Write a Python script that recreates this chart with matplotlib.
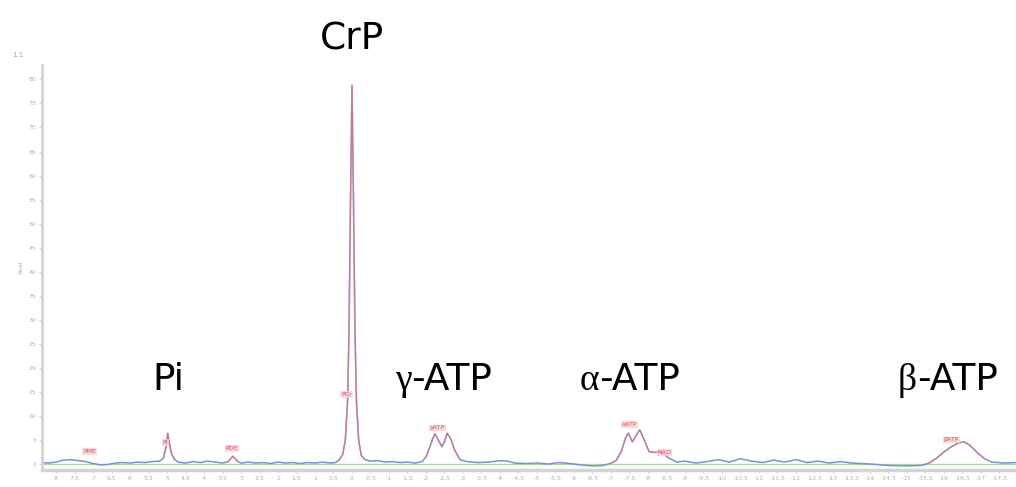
import matplotlib.pyplot as plt
import numpy as np

# 31P spectrum, chemical shift in ppm (descending) and real intensity
ppm = [8.40, 8.20, 8.00, 7.80, 7.60, 7.40, 7.20, 7.00, 6.80, 6.60, 6.40, 6.20,
       6.00, 5.80, 5.60, 5.40, 5.20, 5.10, 5.03, 4.98, 4.93, 4.88, 4.80, 4.70,
       4.50, 4.30, 4.10, 3.90, 3.70, 3.50, 3.35, 3.22, 3.10, 3.00, 2.80, 2.60,
       2.40, 2.20, 2.00, 1.80, 1.60, 1.40, 1.20, 1.00, 0.80, 0.60, 0.45, 0.35,
       0.25, 0.18, 0.12, 0.08, 0.04, 0.00, -0.04, -0.08, -0.12, -0.18, -0.25,
       -0.35, -0.50, -0.70, -0.90, -1.10, -1.30, -1.50, -1.70, -1.90, -2.00,
       -2.10, -2.18, -2.24, -2.34, -2.43, -2.50, -2.57, -2.67, -2.78, -2.92,
       -3.10, -3.40, -3.70, -4.00, -4.20, -4.40, -4.70, -5.00, -5.30, -5.60,
       -5.90, -6.20, -6.50, -6.80, -7.05, -7.15, -7.28, -7.40, -7.47, -7.58,
       -7.70, -7.78, -7.90, -8.03, -8.15, -8.28, -8.40, -8.55, -8.78, -9.00,
       -9.30, -9.60, -9.90, -10.20, -10.50, -10.80, -11.10, -11.40, -11.70,
       -12.00, -12.30, -12.60, -12.90, -13.20, -13.50, -14.00, -14.50, -15.00,
       -15.40, -15.60, -15.80, -16.00, -16.20, -16.40, -16.55, -16.70, -16.90,
       -17.10, -17.30, -17.60, -18.00]
real = [0.3, 0.2, 0.4, 0.8, 0.9, 0.7, 0.5, 0.1, -0.2, -0.1, 0.2, 0.3,
        0.2, 0.4, 0.3, 0.5, 0.6, 1.2, 3.5, 6.4, 4.0, 2.2, 1.0, 0.4,
        0.2, 0.5, 0.3, 0.6, 0.4, 0.2, 0.5, 1.6, 0.6, 0.2, 0.4, 0.2,
        0.3, 0.1, 0.4, 0.2, 0.3, 0.1, 0.3, 0.2, 0.4, 0.2, 0.3, 0.8,
        2.0, 5.0, 13.0, 28.0, 55.0, 78.8, 55.0, 28.0, 13.0, 5.0, 1.8,
        0.9, 0.6, 0.7, 0.4, 0.5, 0.3, 0.4, 0.2, 0.5, 1.5,
        3.5, 5.2, 6.3, 4.9, 3.6, 4.6, 6.4, 5.2, 2.8, 0.9,
        0.5, 0.3, 0.4, 0.7, 0.6, 0.2, 0.1, 0.2, 0.0, 0.3,
        0.1, -0.2, -0.4, -0.3, 0.3, 0.8, 2.6, 5.5, 6.4, 4.6,
        6.2, 7.1, 5.0, 2.6, 2.4, 2.5, 2.3, 1.3, 0.4, 0.6,
        0.2, 0.5, 0.9, 0.4, 1.1, 0.6, 0.3, 0.8, 0.4,
        0.9, 0.3, 0.6, 0.2, 0.5, 0.2, 0.0, -0.3, -0.4,
        -0.3, 0.2, 1.2, 2.5, 3.6, 4.4, 4.6, 3.9, 2.4,
        1.1, 0.4, 0.2, 0.3]

# fitted peak windows (ppm range) and their small tags
fit_windows = [(5.12, 4.80), (3.35, 3.10), (0.35, -0.35), (-1.95, -2.95),
               (-7.05, -8.60), (-15.6, -17.2)]
tag_text = ["PME", "Pi", "PDE", "PCr", "γATP", "αATP", "NAD", "βATP"]
tag_ppm = [7.10, 5.05, 3.25, 0.15, -2.30, -7.50, -8.45, -16.20]
tag_val = [2.6, 4.5, 3.3, 14.5, 7.5, 8.2, 2.4, 5.0]

# peak names written above the spectrum (left edge in ppm)
names = ["-ATP", "-ATP", "-ATP"]
greek = ["γ", "α", "β"]
name_ppm = [-1.16, -6.16, -14.76]
name_val = 15.3

ppm_ticks = np.arange(8.0, -18.0, -0.5)
real_ticks = np.arange(0, 85, 5)

fig = plt.figure(figsize=(10.16, 4.87), dpi=100)
ax = fig.add_axes([42 / 1016, 17 / 487, 974 / 1016, 405 / 487])

ppm = np.array(ppm)
real = np.array(real)

ax.axhline(0.1, color="#a9dca0", lw=1.0, zorder=1)
ax.plot(ppm, real, color="#7593d4", lw=1.1, zorder=2)
for hi, lo in fit_windows:
    m = (ppm <= hi) & (ppm >= lo)
    ax.plot(ppm[m], real[m], color="#f07080", lw=1.1, alpha=0.6, zorder=3)

for t, x, y in zip(tag_text, tag_ppm, tag_val):
    ax.text(x, y, t, fontsize=4.5, color="#e05060", ha="center", va="center",
            bbox=dict(boxstyle="square,pad=0.15", fc="#fbd0d6", ec="none", alpha=0.8),
            zorder=4)

ax.set_xlim(8.38, -17.95)
ax.set_ylim(-1.25, 83)

big = dict(fontsize=27, va="baseline")
ax.text(4.97, name_val, "Pi", family="DejaVu Sans", ha="center", **big)
fig.text(352 / 1016, 1 - 50 / 487, "CrP", family="DejaVu Sans", ha="center", **big)

fig.canvas.draw()
renderer = fig.canvas.get_renderer()
for g, n, x in zip(greek, names, name_ppm):
    gt = ax.text(x, name_val, g, family="Liberation Serif", ha="left", **big)
    ext = gt.get_window_extent(renderer)
    x_right = ax.transData.inverted().transform((ext.x1, 0))[0]
    ax.text(x_right, name_val, n, family="DejaVu Sans", ha="left", **big)

ax.set_xticks(ppm_ticks)
ax.set_xticklabels([f"{v:g}" for v in ppm_ticks])
ax.set_yticks(real_ticks)
ax.set_yticklabels([f"{v:g}" for v in real_ticks])
ax.tick_params(colors="#c8c8c8", labelsize=4.5, length=2, width=0.6, pad=2)
ax.tick_params(axis="x", labelcolor="#b0b0b0")
ax.tick_params(axis="y", labelcolor="#b0b0b0")

for s in ["top", "right"]:
    ax.spines[s].set_visible(False)
ax.spines["left"].set_color("#d4d4d4")
ax.spines["left"].set_linewidth(2)
ax.spines["bottom"].set_color("#d4d4d4")
ax.spines["bottom"].set_linewidth(2.5)

ax.set_ylabel("Real", fontsize=4.5, color="#b0b0b0", labelpad=4)
fig.text(12 / 1016, 1 - 57 / 487, "1.1", fontsize=5, color="#a0a0a0")

fig.savefig("out.png", dpi=100)
